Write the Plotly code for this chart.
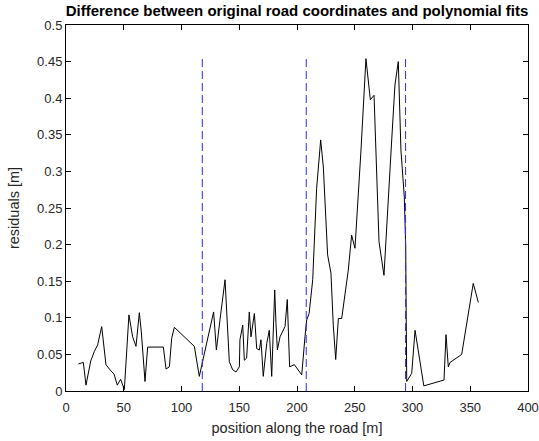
import plotly.graph_objects as go

# Residuals along the road
position_m = [10.7, 15.0, 17.3, 21.4, 24.5, 27.4, 30.9, 34.6, 38.1, 41.6, 44.4, 47.3, 50.5,
              54.5, 57.7, 60.6, 63.5, 65.2, 68.4, 70.7, 84.3, 86.6, 89.5, 91.5, 93.8,
              111.1, 115.4, 118.9, 127.8, 130.2, 131.9, 133.3, 137.7, 141.4, 144.3, 147.2,
              150.1, 150.6, 153.0, 154.4, 156.4, 157.9, 158.7, 160.2, 163.1, 165.1, 167.4,
              168.8, 170.8, 173.8, 176.0, 178.1, 180.7, 181.8, 183.0, 185.3, 189.6, 191.6,
              193.6, 197.7, 204.1, 206.9, 208.4, 210.5, 213.6, 217.0, 220.5, 222.8, 226.5,
              229.4, 231.4, 233.5, 235.8, 238.7, 244.4, 247.3, 250.2, 255.4, 259.7, 263.5,
              266.7, 271.0, 275.3, 282.0, 284.8, 287.7, 290.0, 292.9, 294.1, 295.0, 299.3,
              302.2, 309.8, 327.3, 329.0, 331.0, 332.5, 342.6, 352.6, 357.0]
residual_m = [0.037, 0.039, 0.008, 0.041, 0.054, 0.063, 0.088, 0.036, 0.029, 0.023, 0.008, 0.016, 0.002,
              0.104, 0.074, 0.061, 0.107, 0.081, 0.013, 0.060, 0.060, 0.030, 0.033, 0.072, 0.087,
              0.061, 0.020, 0.045, 0.108, 0.056, 0.083, 0.097, 0.152, 0.040, 0.029, 0.026,
              0.033, 0.070, 0.090, 0.042, 0.045, 0.092, 0.108, 0.074, 0.106, 0.058, 0.056,
              0.070, 0.020, 0.065, 0.083, 0.020, 0.138, 0.092, 0.056, 0.074, 0.088, 0.125,
              0.033, 0.036, 0.022, 0.074, 0.097, 0.106, 0.152, 0.277, 0.343, 0.306, 0.186,
              0.161, 0.090, 0.043, 0.099, 0.099, 0.165, 0.213, 0.195, 0.329, 0.454, 0.398,
              0.404, 0.204, 0.158, 0.343, 0.418, 0.450, 0.329, 0.265, 0.197, 0.013, 0.024,
              0.083, 0.007, 0.015, 0.077, 0.033, 0.039, 0.050, 0.147, 0.121]

# Boundaries between polynomial fit segments
fit_boundaries = [118, 208, 294]

x_ticks = [0, 50, 100, 150, 200, 250, 300, 350, 400]
y_ticks = [0, 0.05, 0.1, 0.15, 0.2, 0.25, 0.3, 0.35, 0.4, 0.45, 0.5]
y_tick_text = ["0", "0.05", "0.1", "0.15", "0.2", "0.25", "0.3", "0.35", "0.4", "0.45", "0.5"]

ymax = max(residual_m)

fig = go.Figure()
fig.add_trace(go.Scatter(x=position_m, y=residual_m, mode="lines",
                         line=dict(color="black", width=1), showlegend=False))
for b in fit_boundaries:
    fig.add_trace(go.Scatter(x=[b, b], y=[0, ymax], mode="lines",
                             line=dict(color="#2a2aff", width=1, dash="8px,4px"),
                             showlegend=False))

font_family = "Liberation Sans, Arial, sans-serif"
axis_common = dict(showline=True, linecolor="black", linewidth=1, mirror="allticks",
                   ticks="inside", ticklen=5, tickcolor="black", showgrid=False,
                   zeroline=False, automargin=False,
                   tickfont=dict(family=font_family, size=13, color="#262626"))

fig.update_layout(
    width=539, height=441,
    margin=dict(l=66, r=11, t=25, b=50),
    paper_bgcolor="white", plot_bgcolor="white",
    title=dict(text="<b>Difference between original road coordinates and polynomial fits</b>",
               font=dict(family=font_family, size=15, color="black"),
               x=0.5, xref="paper", xanchor="center",
               y=1 - 11 / 441, yref="container", yanchor="middle"),
    xaxis=dict(range=[0, 400], tickvals=x_ticks, ticklabelstandoff=4,
               title=dict(text="position along the road [m]", standoff=9,
                          font=dict(family=font_family, size=14.5, color="#262626")),
               **axis_common),
    yaxis=dict(range=[0, 0.5], tickvals=y_ticks, ticktext=y_tick_text,
               title=dict(text="residuals [m]", standoff=14,
                          font=dict(family=font_family, size=14.5, color="#262626")),
               **axis_common),
)

fig.write_html("out.html")
